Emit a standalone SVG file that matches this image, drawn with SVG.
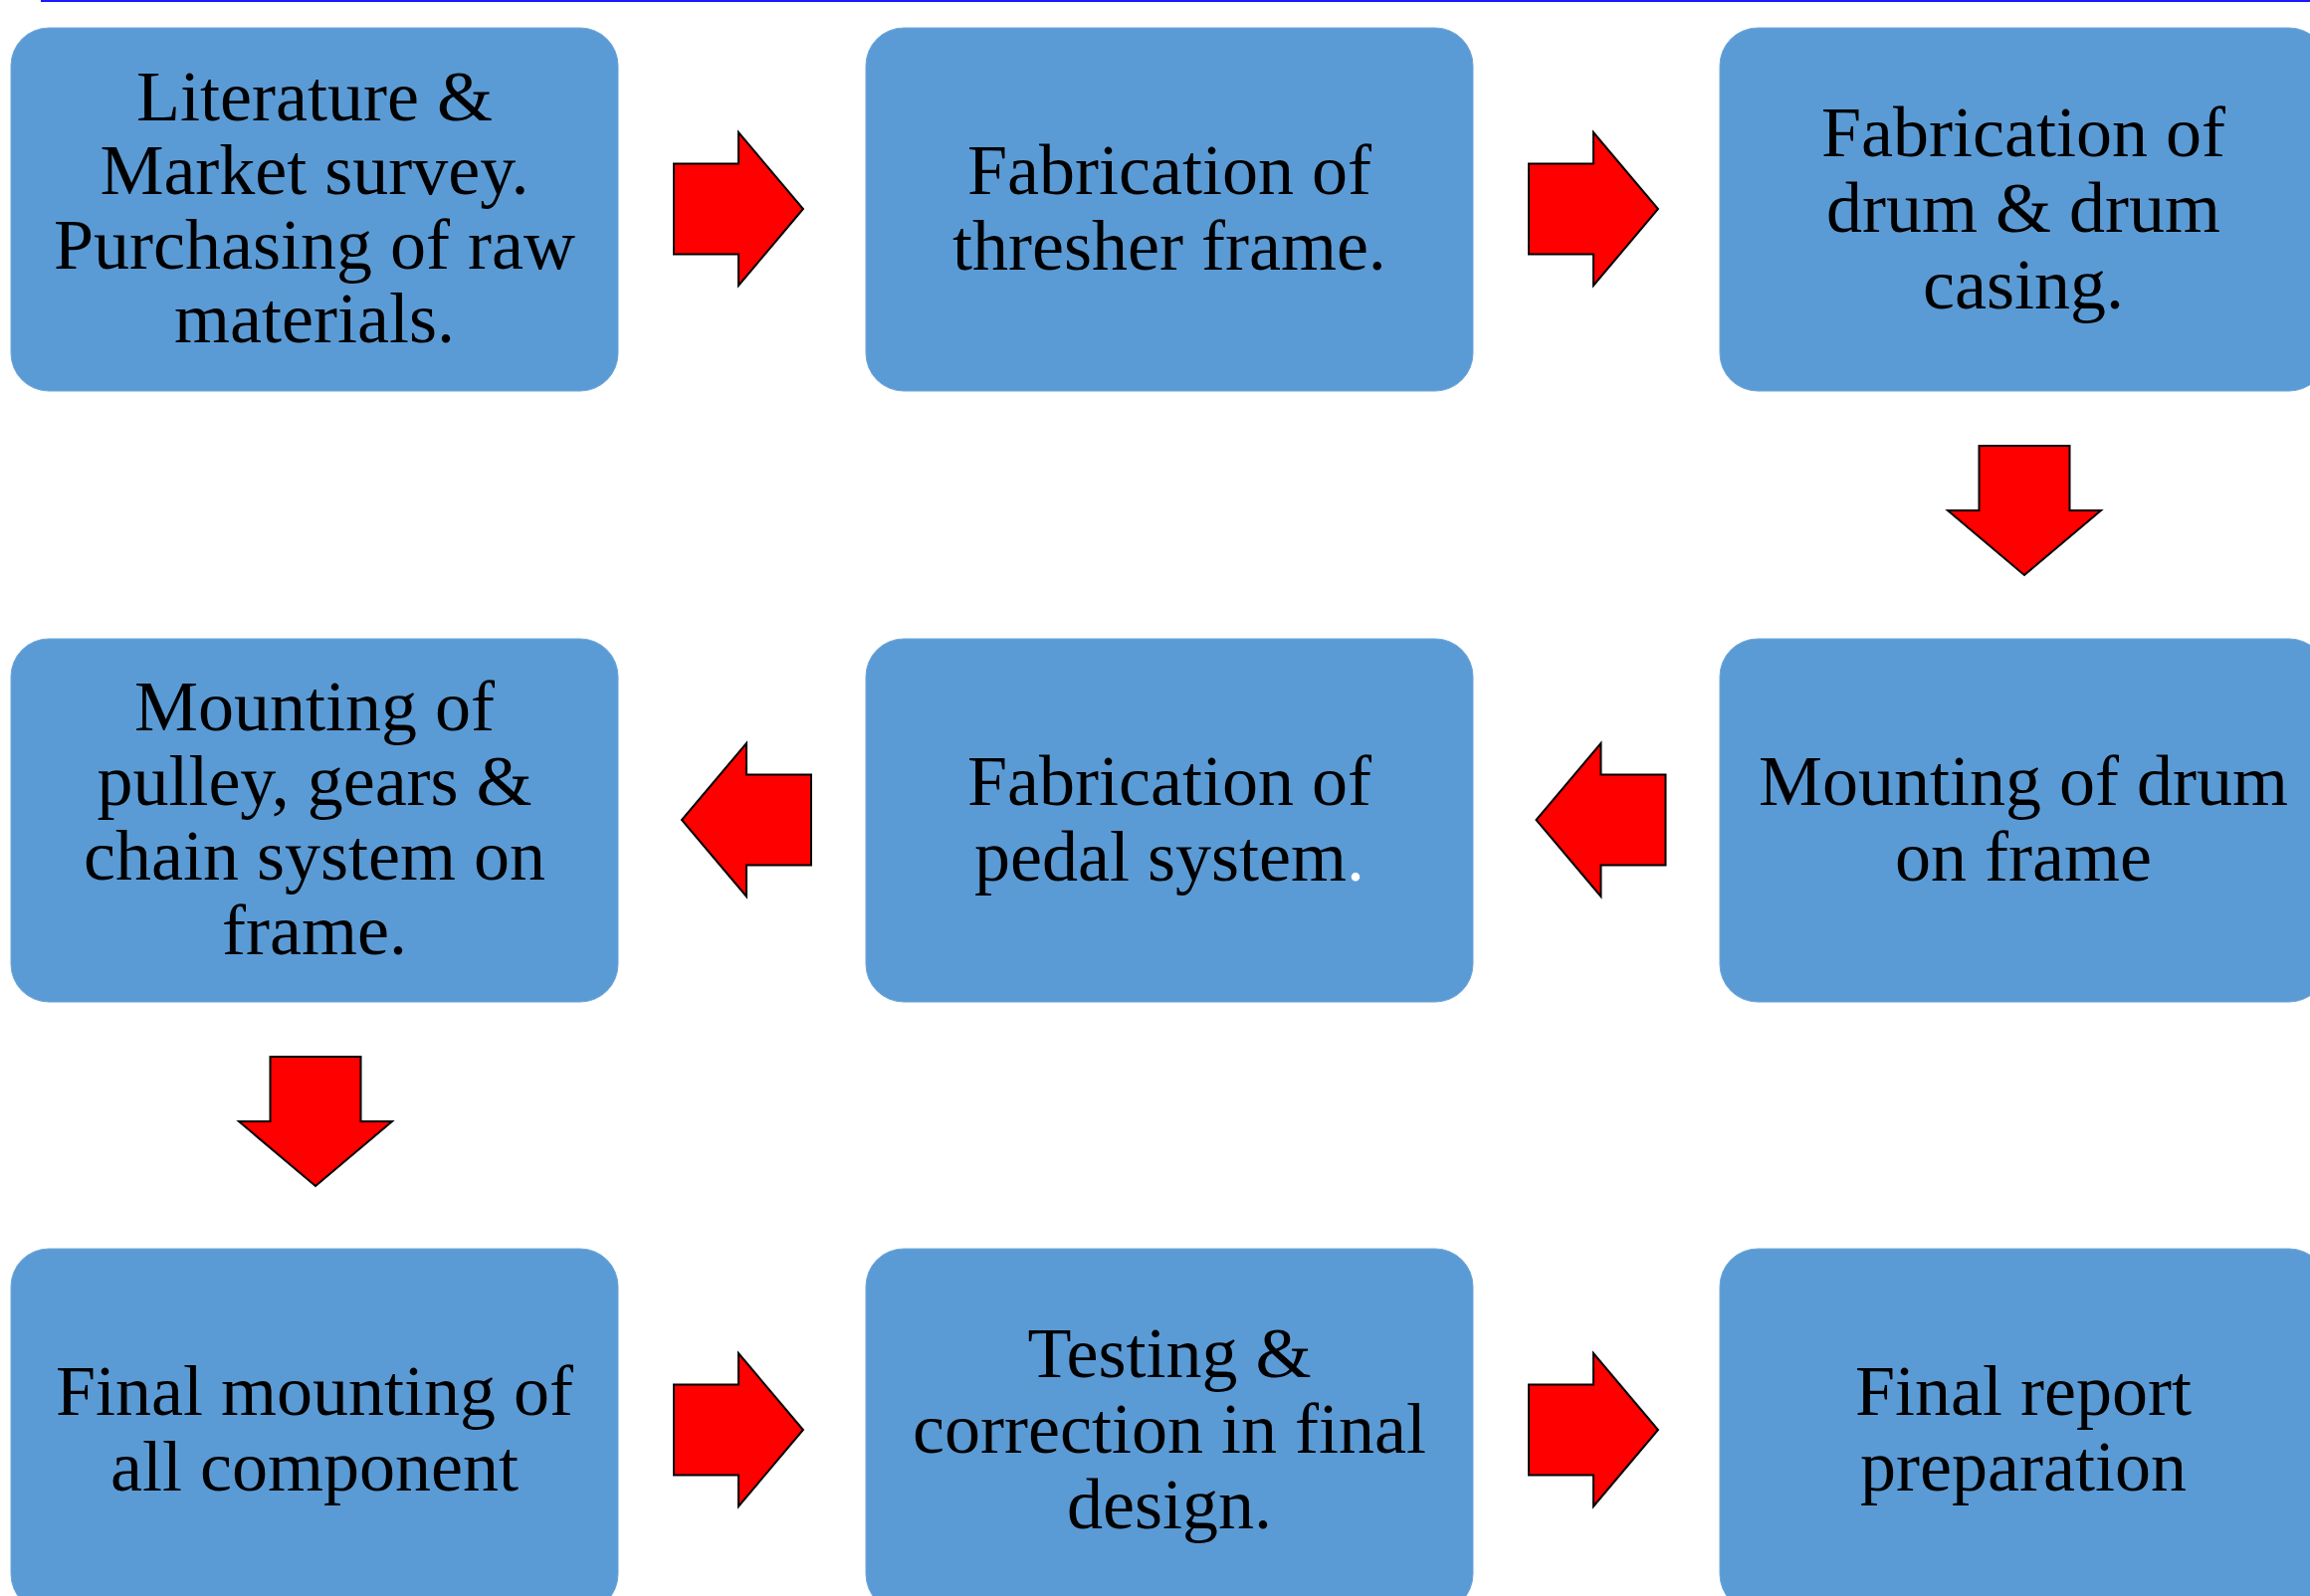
<svg xmlns="http://www.w3.org/2000/svg" xmlns:xlink="http://www.w3.org/1999/xlink" width="2321" height="1604" viewBox="0 0 2321 1604">
<style>
.box{fill:#5B9BD5;stroke:#6fa7da;stroke-width:1}
.t{font-family:"Liberation Serif","Times New Roman",serif;font-size:72px;fill:#000;text-anchor:middle}
.arr{fill:#FF0000;stroke:#000;stroke-width:2;stroke-linejoin:miter}
</style>
<defs>
<path id="arrow" class="arr" d="M-65,-45.5 H0 V-77 L65,0 L0,77 V45.5 H-65 Z"/>
</defs>
<rect width="2321" height="1604" fill="#fff"/>
<line x1="41" y1="1" x2="2321" y2="1" stroke="#1a1aff" stroke-width="2"/>

<g id="n1"><rect class="box" x="11" y="28" width="610" height="365" rx="38"/>
<text class="t"><tspan x="316" y="120.5">Literature &amp;</tspan><tspan x="316" y="195">Market survey.</tspan><tspan x="316" y="269.5">Purchasing of raw</tspan><tspan x="316" y="344">materials.</tspan></text></g>

<g id="n2"><rect class="box" x="870" y="28" width="610" height="365" rx="38"/>
<text class="t"><tspan x="1175" y="194.5">Fabrication of</tspan><tspan x="1175" y="270.5">thresher frame.</tspan></text></g>

<g id="n3"><rect class="box" x="1728" y="28" width="610" height="365" rx="38"/>
<text class="t"><tspan x="2033" y="156.5">Fabrication of</tspan><tspan x="2033" y="233">drum &amp; drum</tspan><tspan x="2033" y="309.5">casing.</tspan></text></g>

<g id="n4"><rect class="box" x="1728" y="642" width="610" height="365" rx="38"/>
<text class="t"><tspan x="2033" y="808.5">Mounting of drum</tspan><tspan x="2033" y="884.5">on frame</tspan></text></g>

<g id="n5"><rect class="box" x="870" y="642" width="610" height="365" rx="38"/>
<text class="t"><tspan x="1175" y="808.5">Fabrication of</tspan><tspan x="1175" y="884.5">pedal system<tspan fill="#fff">.</tspan></tspan></text></g>

<g id="n6"><rect class="box" x="11" y="642" width="610" height="365" rx="38"/>
<text class="t"><tspan x="316" y="734">Mounting of</tspan><tspan x="316" y="809">pulley, gears &amp;</tspan><tspan x="316" y="884">chain system on</tspan><tspan x="316" y="959">frame.</tspan></text></g>

<g id="n7"><rect class="box" x="11" y="1255" width="610" height="365" rx="38"/>
<text class="t"><tspan x="316" y="1421.5">Final mounting of</tspan><tspan x="316" y="1497.5">all component</tspan></text></g>

<g id="n8"><rect class="box" x="870" y="1255" width="610" height="365" rx="38"/>
<text class="t"><tspan x="1175" y="1384">Testing &amp;</tspan><tspan x="1175" y="1460">correction in final</tspan><tspan x="1175" y="1536">design.</tspan></text></g>

<g id="n9"><rect class="box" x="1728" y="1255" width="610" height="365" rx="38"/>
<text class="t"><tspan x="2033" y="1421.5">Final report</tspan><tspan x="2033" y="1497.5">preparation</tspan></text></g>

<g id="connectors">
<use xlink:href="#arrow" href="#arrow" transform="translate(742,210)"/>
<use xlink:href="#arrow" href="#arrow" transform="translate(1601,210)"/>
<use xlink:href="#arrow" href="#arrow" transform="translate(2034,513) rotate(90)"/>
<use xlink:href="#arrow" href="#arrow" transform="translate(1608.5,824) rotate(180)"/>
<use xlink:href="#arrow" href="#arrow" transform="translate(750,824) rotate(180)"/>
<use xlink:href="#arrow" href="#arrow" transform="translate(317,1127) rotate(90)"/>
<use xlink:href="#arrow" href="#arrow" transform="translate(742,1437)"/>
<use xlink:href="#arrow" href="#arrow" transform="translate(1601,1437)"/>
</g>
</svg>
